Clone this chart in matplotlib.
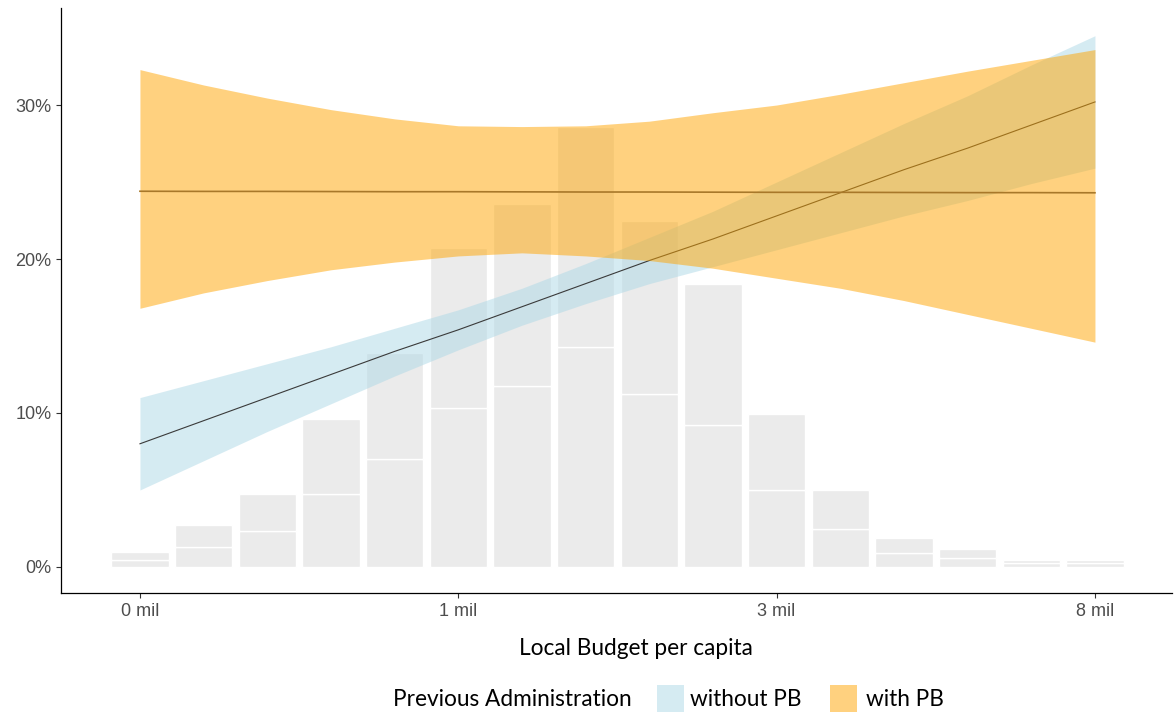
import matplotlib
matplotlib.use("Agg")
import matplotlib.pyplot as plt
from matplotlib.patches import Rectangle

# ---- data -------------------------------------------------------------
budget_bins = list(range(16))
tick_pos = [0, 5, 10, 15]
tick_labels = ["0 mil", "1 mil", "3 mil", "8 mil"]
y_ticks = [0, 10, 20, 30]

# stacked histogram of municipalities per budget bin (share, %)
share_first = [0.45, 1.32, 2.34, 4.76, 7.0, 10.3, 11.77, 14.3, 11.25, 9.24,
               5.0, 2.47, 0.9, 0.56, 0.26, 0.26]
share_second = [0.50, 1.38, 2.38, 4.84, 6.9, 10.4, 11.78, 14.3, 11.25, 9.16,
                4.94, 2.51, 0.96, 0.61, 0.17, 0.17]

# fitted probability (%) and confidence band, previous administration without PB
without_fit = [8.0, 9.5, 11.0, 12.5, 14.0, 15.4, 16.9, 18.4, 19.9, 21.3,
               22.8, 24.3, 25.8, 27.2, 28.7, 30.2]
without_hi = [11.0, 12.1, 13.2, 14.3, 15.5, 16.7, 18.1, 19.7, 21.4, 23.1,
              25.0, 26.9, 28.8, 30.6, 32.6, 34.5]
without_lo = [5.0, 6.9, 8.8, 10.6, 12.4, 14.1, 15.7, 17.1, 18.4, 19.5,
              20.6, 21.7, 22.8, 23.8, 24.9, 25.9]

# fitted probability (%) and confidence band, previous administration with PB
with_fit = [24.40, 24.39, 24.39, 24.38, 24.37, 24.37, 24.36, 24.35, 24.35,
            24.34, 24.33, 24.33, 24.32, 24.31, 24.31, 24.30]
with_hi = [32.3, 31.3, 30.45, 29.7, 29.1, 28.65, 28.6, 28.65, 28.95, 29.5,
           30.0, 30.7, 31.45, 32.2, 32.9, 33.6]
with_lo = [16.8, 17.8, 18.6, 19.3, 19.8, 20.2, 20.4, 20.2, 19.9, 19.4,
           18.75, 18.1, 17.3, 16.4, 15.5, 14.6]

legend_title = "Previous Administration"
group_names = ["without PB", "with PB"]

# ---- style ------------------------------------------------------------
W, H = 1175, 719
BAR_GREY = "#EBEBEB"
BLUE = "#ADD8E6"
ORANGE = "#FFA500"
TEXT_FONT = ["Lato", "DejaVu Sans"]
TICK_FONT = ["Liberation Sans", "DejaVu Sans"]
TEXT_SIZE = 16.3

fig = plt.figure(figsize=(W / 100, H / 100), dpi=100)
ax = fig.add_axes([61 / W, (H - 593) / H, (1172 - 61) / W, (593 - 8) / H])

# histogram bars (stacked)
ax.bar(budget_bins, share_first, width=0.9, color=BAR_GREY,
       edgecolor="white", linewidth=1.0, zorder=1)
ax.bar(budget_bins, share_second, width=0.9, bottom=share_first,
       color=BAR_GREY, edgecolor="white", linewidth=1.0, zorder=1)

# smoothed fits with confidence ribbons
ax.fill_between(budget_bins, without_lo, without_hi, color=BLUE,
                alpha=0.5, linewidth=0, zorder=2)
ax.plot(budget_bins, without_fit, color="#3A3A3A", linewidth=0.8, zorder=3)
ax.fill_between(budget_bins, with_lo, with_hi, color=ORANGE,
                alpha=0.5, linewidth=0, zorder=4)
ax.plot(budget_bins, with_fit, color="#A8782A", linewidth=1.2, zorder=5)

ax.set_xlim(-1.24, 16.21)
ax.set_ylim(-1.69, 36.3)

ax.set_xticks(tick_pos)
ax.set_xticklabels(tick_labels)
ax.set_yticks(y_ticks)
ax.set_yticklabels([f"{v}%" for v in y_ticks])
for lab in ax.get_xticklabels() + ax.get_yticklabels():
    lab.set_fontfamily(TICK_FONT)
ax.tick_params(axis="both", length=3.5, width=0.8, color="#333333",
               labelcolor="#4D4D4D", labelsize=13, pad=3.5)

for side in ["top", "right"]:
    ax.spines[side].set_visible(False)
for side in ["left", "bottom"]:
    ax.spines[side].set_color("black")
    ax.spines[side].set_linewidth(0.9)

ax.set_xlabel("Local Budget per capita", fontsize=TEXT_SIZE, family=TEXT_FONT,
              color="black")
ax.xaxis.set_label_coords((635.5 - 61) / 1111, (593 - 655) / 585)
ax.xaxis.label.set_verticalalignment("baseline")

# legend row at the bottom
def fx(px):
    return px / W

def fy(py):
    return 1 - py / H

fig.text(fx(393), fy(706), legend_title, fontsize=TEXT_SIZE, family=TEXT_FONT,
         ha="left", va="baseline", color="black")
key_x = [657, 830]
text_x = [690, 866]
for kx, tx, col, name in zip(key_x, text_x, [BLUE, ORANGE], group_names):
    fig.patches.append(Rectangle((fx(kx), fy(712)), 27 / W, 27 / H,
                                 transform=fig.transFigure, facecolor=col,
                                 alpha=0.5, edgecolor="none"))
    fig.text(fx(tx), fy(706), name, fontsize=TEXT_SIZE, family=TEXT_FONT,
             ha="left", va="baseline", color="black")

fig.savefig("out.png", dpi=100, facecolor="white")
